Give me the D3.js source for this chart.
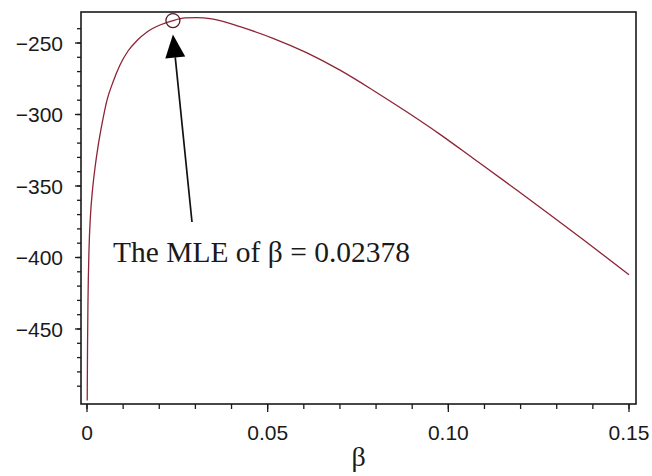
<!DOCTYPE html>
<html>
<head>
<meta charset="utf-8">
<script src="https://cdn.jsdelivr.net/npm/d3@7"></script>
<style>
  html, body { margin: 0; padding: 0; background: #fff; }
  svg { display: block; }
</style>
</head>
<body>
<svg id="chart" width="652" height="476"></svg>
<script>
// Log-likelihood of beta, sampled along the curve
const betaValues = [0.00006, 0.000138, 0.000277, 0.000553, 0.000969, 0.00152, 0.00221,
  0.00304, 0.00415, 0.00554, 0.00720, 0.00913, 0.01135, 0.01384, 0.01661, 0.02020,
  0.02380, 0.02712, 0.03044, 0.03404, 0.03681, 0.04234, 0.05148, 0.06089, 0.07002,
  0.07915, 0.08856, 0.09770, 0.10683, 0.11901, 0.12814, 0.13728, 0.15];
const logLikValues = [-500, -464.7, -429.7, -394.8, -370.3, -352.8, -337.4,
  -322.7, -306.6, -289.9, -277.3, -265.4, -255.6, -248.3, -242.3, -237.4,
  -234.3, -232.5, -232.2, -232.9, -234.3, -238.6, -246.7, -256.9, -269.0,
  -283.0, -298.3, -313.9, -330.6, -353.0, -370.1, -387.4, -412];

// Maximum likelihood estimate
const mleBeta = 0.02378;
const mleLogLik = -234.3;
const mleLabel = "The MLE of \u03b2 = 0.02378";

// Axis ticks and labels
const xMajorTicks = [0, 0.05, 0.10, 0.15];
const xTickLabels = ["0", "0.05", "0.10", "0.15"];
const xMinorTicks = d3.range(0, 16).map(i => i / 100);
const yMajorTicks = [-250, -300, -350, -400, -450];
const yTickLabels = ["\u2212250", "\u2212300", "\u2212350", "\u2212400", "\u2212450"];
const yMinorTicks = d3.range(-490, -239, 10);
const xTitle = "\u03b2";

const svg = d3.select("#chart");
svg.append("rect").attr("width", 652).attr("height", 476).attr("fill", "#fff");

// Scales: plot box sits a few pixels outside the data extent
const x = d3.scaleLinear().domain([0, 0.15]).range([87, 629]);
const y = d3.scaleLinear().domain([-500, -230]).range([400.5, 14.4]);
const box = { left: 81, right: 636, top: 12, bottom: 404 };

const tickFont = "'Liberation Sans', Arial, sans-serif";
const serifFont = "'Liberation Serif', 'Times New Roman', serif";

// Y axis ticks (outward, left side)
const yAxis = svg.append("g");
yAxis.selectAll("line.minor").data(yMinorTicks).enter().append("line")
  .attr("x1", box.left - 4).attr("x2", box.left)
  .attr("y1", d => y(d)).attr("y2", d => y(d))
  .attr("stroke", "#1a1a1a").attr("stroke-width", 1.3);
yAxis.selectAll("line.major").data(yMajorTicks).enter().append("line")
  .attr("x1", box.left - 6).attr("x2", box.left)
  .attr("y1", d => y(d)).attr("y2", d => y(d))
  .attr("stroke", "#1a1a1a").attr("stroke-width", 1.3);
yAxis.selectAll("text").data(yMajorTicks).enter().append("text")
  .attr("x", 63).attr("y", d => y(d) + 7.5)
  .attr("text-anchor", "end")
  .attr("font-family", tickFont).attr("font-size", 21)
  .attr("fill", "#1a1a1a")
  .text((d, i) => yTickLabels[i]);

// X axis ticks (outward, bottom side)
const xAxis = svg.append("g");
xAxis.selectAll("line.minor").data(xMinorTicks).enter().append("line")
  .attr("x1", d => x(d)).attr("x2", d => x(d))
  .attr("y1", box.bottom).attr("y2", box.bottom + 5)
  .attr("stroke", "#1a1a1a").attr("stroke-width", 1.3);
xAxis.selectAll("line.major").data(xMajorTicks).enter().append("line")
  .attr("x1", d => x(d)).attr("x2", d => x(d))
  .attr("y1", box.bottom).attr("y2", box.bottom + 8)
  .attr("stroke", "#1a1a1a").attr("stroke-width", 1.3);
xAxis.selectAll("text").data(xMajorTicks).enter().append("text")
  .attr("x", d => x(d)).attr("y", 440)
  .attr("text-anchor", "middle")
  .attr("font-family", tickFont).attr("font-size", 21)
  .attr("fill", "#1a1a1a")
  .text((d, i) => xTickLabels[i]);

svg.append("text")
  .attr("x", (box.left + box.right) / 2).attr("y", 466)
  .attr("text-anchor", "middle")
  .attr("font-family", serifFont).attr("font-size", 28)
  .attr("fill", "#1a1a1a")
  .text(xTitle);

// Log-likelihood curve
const pts = betaValues.map((b, i) => [b, logLikValues[i]]);
const line = d3.line().x(d => x(d[0])).y(d => y(d[1])).curve(d3.curveMonotoneX);
svg.append("path").datum(pts)
  .attr("d", line)
  .attr("fill", "none")
  .attr("stroke", "#8e2436")
  .attr("stroke-width", 1.3);

// Plot frame
svg.append("rect")
  .attr("x", box.left).attr("y", box.top)
  .attr("width", box.right - box.left).attr("height", box.bottom - box.top)
  .attr("fill", "none").attr("stroke", "#1a1a1a").attr("stroke-width", 1.6);

// MLE marker
const cx = x(mleBeta), cy = y(mleLogLik);
svg.append("circle")
  .attr("cx", cx).attr("cy", cy).attr("r", 7)
  .attr("fill", "none").attr("stroke", "#5a1a24").attr("stroke-width", 1.3);

// Arrow from the label up to the marker
const tail = [192, 222];
const tip = [cx, cy + 14];
const dx = tip[0] - tail[0], dy = tip[1] - tail[1];
const len = Math.hypot(dx, dy);
const ux = dx / len, uy = dy / len;
const headLen = 23, headHalf = 10;
const base = [tip[0] - ux * headLen, tip[1] - uy * headLen];
svg.append("line")
  .attr("x1", tail[0]).attr("y1", tail[1])
  .attr("x2", base[0]).attr("y2", base[1])
  .attr("stroke", "#111").attr("stroke-width", 1.7);
svg.append("path")
  .attr("d", d3.line()([
    tip,
    [base[0] - uy * headHalf, base[1] + ux * headHalf],
    [base[0] + uy * headHalf, base[1] - ux * headHalf]
  ]) + "Z")
  .attr("fill", "#000");

svg.append("text")
  .attr("x", 113).attr("y", 262)
  .attr("font-family", serifFont).attr("font-size", 29)
  .attr("textLength", 297).attr("lengthAdjust", "spacingAndGlyphs")
  .attr("fill", "#1a1a1a")
  .text(mleLabel);
</script>
</body>
</html>
